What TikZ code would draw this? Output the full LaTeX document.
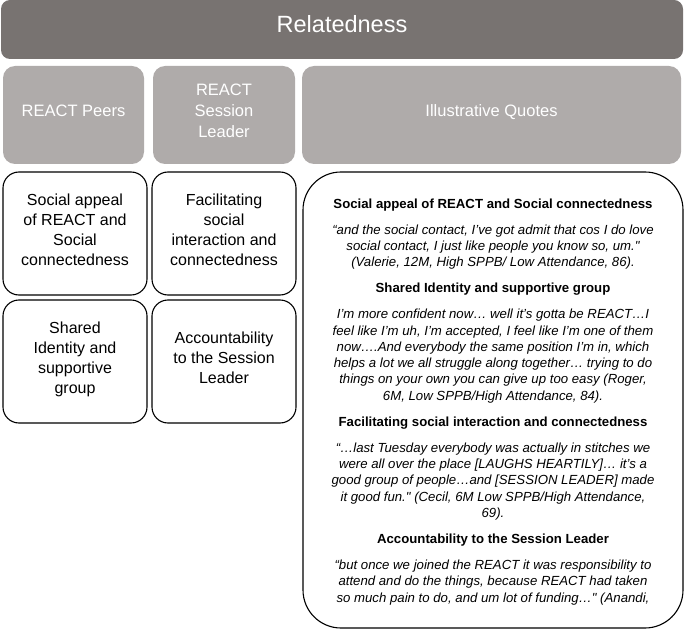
\documentclass[tikz,border=0pt]{standalone}
\usepackage{fontspec}
\setmainfont{Liberation Sans}[Ligatures=TeXOff]
\usetikzlibrary{positioning}

\definecolor{headgray}{RGB}{120,115,113}
\definecolor{colgray}{RGB}{175,171,170}

\tikzset{every picture/.style={line width=1.1pt}}
\tikzset{
  header/.style={fill=headgray, rounded corners=9pt, text=white,
                 minimum width=682pt, minimum height=59pt,
                 font=\fontsize{23.5}{28}\selectfont, text depth=10.4pt},
  colhead/.style={fill=colgray, rounded corners=12pt, text=white,
                  minimum height=98pt, align=center, inner sep=0pt,
                  font=\fontsize{16.5}{20.7}\selectfont, text depth=8.2pt},
  theme/.style={draw, rounded corners=16pt, minimum width=144pt,
                minimum height=123pt, align=center, inner sep=0pt,
                font=\fontsize{16}{20}\selectfont, text depth=8.3pt},
  quotebox/.style={draw, rounded corners=38pt, minimum width=380pt,
                   minimum height=456pt},
  quotetext/.style={align=center, inner sep=0pt,
                    font=\fontsize{13.2}{16.3}\selectfont\itshape},
}
\def\gap{9.7pt} % extra space round the bold titles

\begin{document}
\begin{tikzpicture}[x=1pt, y=-1pt]
  \useasboundingbox (0,0) rectangle (685,631);
  % title bar
  \node[header] (header) at (342,29.5) {Relatedness};
  % column heads
  \node[colhead, minimum width=141pt] (peers) at (73.5,115) {REACT Peers};
  \node[colhead, minimum width=142pt] (leader) at (224,115) {REACT\\Session\\Leader};
  \node[colhead, minimum width=379pt] (quotehead) at (491.5,115) {Illustrative Quotes};
  % themes
  \node[theme] (social) at (75,233.5) {Social appeal\\of REACT and\\Social\\connectedness};
  \node[theme] (facil) at (224,233.5) {Facilitating\\social\\interaction and\\connectedness};
  \node[theme] (shared) at (75,361.5) {Shared\\Identity and\\supportive\\group};
  \node[theme] (account) at (224,361.5) {Accountability\\to the Session\\Leader};
  % quotes
  \node[quotebox] (quotes) at (493,400) {};
  \node[quotetext, anchor=north] (qtext) at (493,198) {%
    {\upshape\bfseries Social appeal of REACT and Social connectedness}\\[\gap]
    “and the social contact, I’ve got admit that cos I do love\\
    social contact, I just like people you know so, um."\\
    (Valerie, 12M, High SPPB/ Low Attendance, 86).\\[\gap]
    {\upshape\bfseries Shared Identity and supportive group}\\[\gap]
    I’m more confident now… well it’s gotta be REACT…I\\
    feel like I’m uh, I’m accepted, I feel like I’m one of them\\
    now….And everybody the same position I’m in, which\\
    helps a lot we all struggle along together… trying to do\\
    things on your own you can give up too easy (Roger,\\
    6M, Low SPPB/High Attendance, 84).\\[\gap]
    {\upshape\bfseries Facilitating social interaction and connectedness}\\[\gap]
    “…last Tuesday everybody was actually in stitches we\\
    were all over the place [LAUGHS HEARTILY]… it’s a\\
    good group of people…and [SESSION LEADER] made\\
    it good fun." (Cecil, 6M Low SPPB/High Attendance,\\
    69).\\[\gap]
    {\upshape\bfseries Accountability to the Session Leader}\\[\gap]
    “but once we joined the REACT it was responsibility to\\
    attend and do the things, because REACT had taken\\
    so much pain to do, and um lot of funding…" (Anandi,};
\end{tikzpicture}
\end{document}
